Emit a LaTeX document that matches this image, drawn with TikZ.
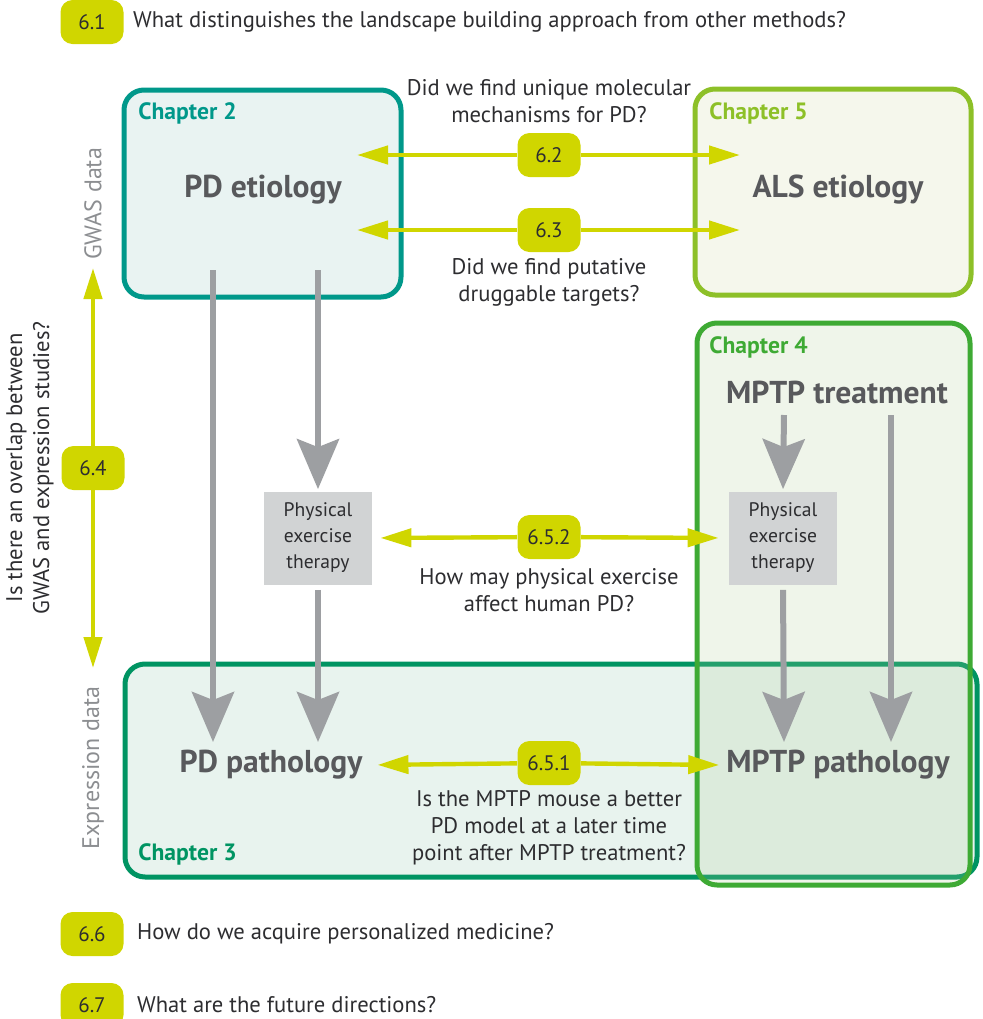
\documentclass[tikz,border=0pt]{standalone}
\usepackage{fontspec}
\setmainfont{PT Sans}
\usetikzlibrary{arrows.meta}

\definecolor{qyellow}{RGB}{208,214,0}
\definecolor{dtext}{RGB}{45,45,48}
\definecolor{btext}{RGB}{88,89,92}
\definecolor{stext}{RGB}{140,142,145}
\definecolor{pgray}{RGB}{209,211,212}
\definecolor{arrgray}{RGB}{157,159,162}
\definecolor{chtwo}{RGB}{0,152,138}
\definecolor{chtwofill}{RGB}{233,243,242}
\definecolor{chfive}{RGB}{141,192,40}
\definecolor{chfivefill}{RGB}{245,247,236}
\definecolor{chfour}{RGB}{62,170,52}
\definecolor{chfourfill}{RGB}{175,205,150}
\definecolor{chthree}{RGB}{0,148,98}
\definecolor{chthreefill}{RGB}{232,243,238}

\begin{document}
\begin{tikzpicture}[x=0.5pt, y=-0.5pt,
  num/.style={fill=qyellow, rounded corners=6pt, minimum width=31.5pt, minimum height=22pt, inner sep=0pt, text=dtext, font=\fontsize{10.5}{12}\selectfont},
  ques/.style={align=center, text=dtext, font=\fontsize{11.3}{13.5}\selectfont},
  line/.style={anchor=west, text=dtext, font=\fontsize{11.3}{13.5}\selectfont},
  chap/.style={anchor=west, inner sep=0pt, font=\bfseries\fontsize{11.8}{13}\selectfont},
  big/.style={text=btext, font=\bfseries\fontsize{15.8}{18}\selectfont},
  therapy/.style={fill=pgray, minimum width=54pt, minimum height=46.5pt, inner sep=0pt, align=center, text=dtext, font=\fontsize{9.8}{13}\selectfont},
  side/.style={rotate=90, text=stext, font=\fontsize{12}{13}\selectfont},
  box/.style={line width=2.5pt, rounded corners=10pt},
  yarr/.style={qyellow, line width=2.2pt, -{Triangle[length=15.5pt, width=9pt]}},
  garr/.style={arrgray, line width=3pt, -{Stealth[length=25pt, width=21pt, inset=4pt]}}
]
\useasboundingbox (0,0) rectangle (982,1019);

% chapter boxes, chapter 4 last so it lies over chapter 3
\draw[box, draw=chthree, fill=chthreefill] (125,664) rectangle (977,877);
\draw[box, draw=chfour, fill=chfourfill, fill opacity=0.2] (697,323) rectangle (970,885);
\draw[box, draw=chtwo, fill=chtwofill] (124,90) rectangle (401,297);
\draw[box, draw=chfive, fill=chfivefill] (695,89) rectangle (971,295);

\node (ch2) [chap, text=chtwo] at (138,113) {Chapter 2};
\node (ch5) [chap, text=chfive] at (709,113) {Chapter 5};
\node (ch4) [chap, text=chfour] at (709,347) {Chapter 4};
\node (ch3) [chap, text=chthree] at (138,854) {Chapter 3};

% main labels
\node (pdet) [big] at (263,190) {PD etiology};
\node (alset) [big] at (838,190) {ALS etiology};
\node (mptpt) [big] at (837,392) {MPTP treatment};
\node (pdpath) [big] at (271,765) {PD pathology};
\node (mptppath) [big] at (838,765) {MPTP pathology};

\node (pet1) [therapy] at (318,538) {Physical\\exercise\\therapy};
\node (pet2) [therapy] at (783,538) {Physical\\exercise\\therapy};

% gray flows
\coordinate (pdA) at (213,270);
\coordinate (pdB) at (318,270);
\coordinate (mtA) at (784,415);
\coordinate (mtB) at (891,415);
\coordinate (pathA) at (213,742);
\coordinate (pathB) at (318,742);
\coordinate (pathC) at (784,742);
\coordinate (pathD) at (891,742);
\draw[garr] (pdA) -- (pathA);
\draw[garr, shorten >=1pt] (pdB) -- (pet1.north);
\draw[garr, shorten <=2.5pt] (pet1.south) -- (pathB);
\draw[garr, shorten >=1pt] (mtA) -- (pet2.north);
\draw[garr, shorten <=2.5pt] (pet2.south) -- (pathC);
\draw[garr] (mtB) -- (pathD);

% question numbers on the arrows
\node (q62) [num] at (549,155) {6.2};
\node (q63) [num] at (549,230) {6.3};
\node (q64) [num] at (93,468) {6.4};
\node (q652) [num] at (549,537) {6.5.2};
\node (q651) [num] at (549,763) {6.5.1};

\coordinate (l62) at (357,155);
\coordinate (r62) at (740,155);
\coordinate (l63) at (357,230);
\coordinate (r63) at (740,230);
\coordinate (up64) at (93,268);
\coordinate (dn64) at (93,668);
\draw[yarr] (q62) -- (l62);
\draw[yarr] (q62) -- (r62);
\draw[yarr] (q63) -- (l63);
\draw[yarr] (q63) -- (r63);
\draw[yarr] (q64) -- (up64);
\draw[yarr] (q64) -- (dn64);
\draw[yarr, shorten >=4pt] (q652) -- (pet1.east);
\draw[yarr, shorten >=5pt] (q652) -- (pet2.west);
\draw[yarr, shorten >=4pt] (q651) -- (pdpath.east);
\draw[yarr, shorten >=0pt] (q651) -- (mptppath.west);

\node (t62) [ques] at (549,101) {Did we find unique molecular\\mechanisms for PD?};
\node (t63) [ques] at (549,282) {Did we find putative\\druggable targets?};
\node (t652) [ques] at (549,590) {How may physical exercise\\affect human PD?};
\node (t651) [ques] at (549,828) {Is the MPTP mouse a better\\PD model at a later time\\point after MPTP treatment?};
\node (t64) [ques, rotate=90] at (30,468) {Is there an overlap between\\GWAS and expression studies?};

\node (gwas) [side] at (93,204) {GWAS data};
\node (expr) [side] at (93,768) {Expression data};

% general questions
\node (q61) [num] at (92,22) {6.1};
\node (t61) [line] at (126,22) {What distinguishes the landscape building approach from other methods?};
\node (q66) [num] at (92,934) {6.6};
\node (t66) [line] at (130,934) {How do we acquire personalized medicine?};
\node (q67) [num] at (92,1005) {6.7};
\node (t67) [line] at (130,1005) {What are the future directions?};
\end{tikzpicture}
\end{document}
